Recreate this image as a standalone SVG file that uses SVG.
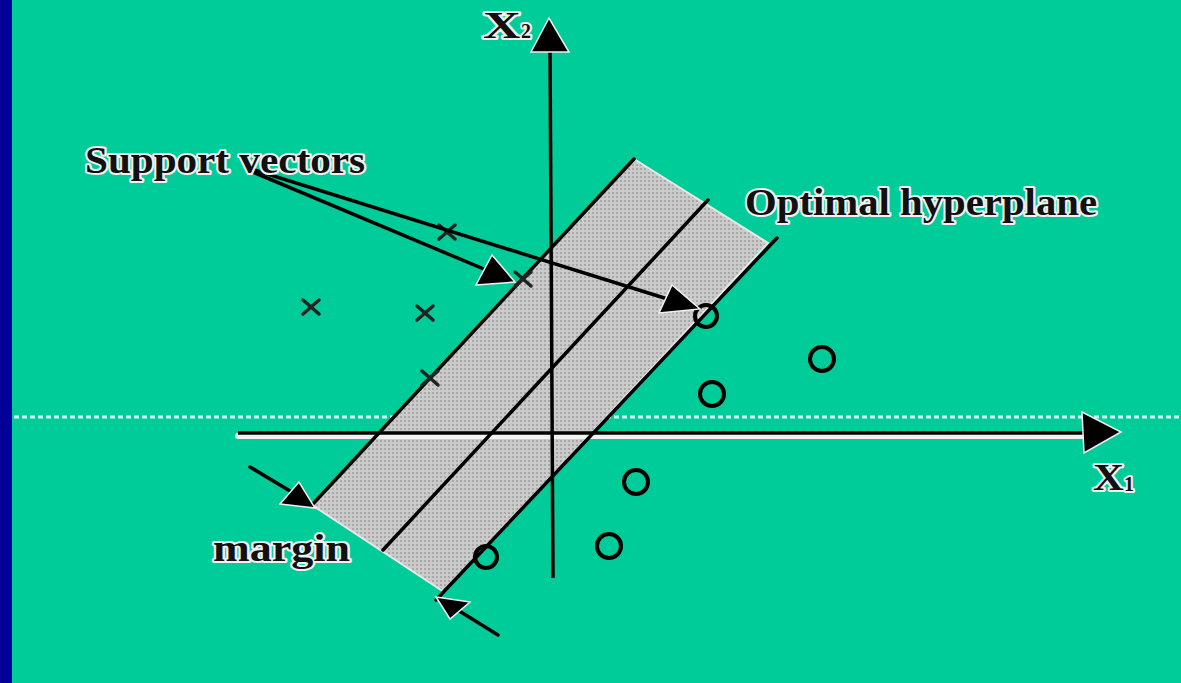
<svg xmlns="http://www.w3.org/2000/svg" width="1181" height="683" viewBox="0 0 1181 683">
<style>
.ln{stroke:#000;stroke-width:3.5;fill:none;stroke-linecap:round}
.halo{stroke:#f2f2f2;stroke-width:6;fill:none;stroke-linecap:round}
.ax{stroke:#000;stroke-width:3.5;fill:none}
.lbl{font-family:"Liberation Serif","Times New Roman",serif;font-weight:bold;fill:#111;stroke:#f0f0f0;stroke-width:4;paint-order:stroke;stroke-linejoin:round}
.circ{fill:none;stroke:#000;stroke-width:4}
.crs{stroke:#222;stroke-width:3.5;stroke-linecap:round}
.head{fill:#000;stroke:#f0f0f0;stroke-width:1.5}
</style>
<defs>
<pattern id="dots" width="4" height="4" patternUnits="userSpaceOnUse">
<rect width="4" height="4" fill="#cbcbcb"/>
<rect x="0" y="0" width="2" height="2" fill="#a8a8a8"/>
</pattern>
</defs>
<rect width="1181" height="683" fill="#00CC99"/>
<rect width="12" height="683" fill="#000099"/>
<line x1="14" y1="417" x2="1181" y2="417" stroke="#c8fff0" stroke-width="3" stroke-dasharray="5 3"/>

<g id="band">
<polygon points="634,159 768,243 444,592 312,505" fill="url(#dots)" stroke="#e8e8e8" stroke-width="2"/>
</g>

<g id="axes">
<line class="halo" x1="238" y1="436" x2="1085" y2="436"/>
<line class="ax" x1="238" y1="433" x2="1090" y2="433"/>
<polygon class="head" points="1082,412 1121,432 1084,453"/>
<line class="ax" x1="550" y1="48" x2="553" y2="578"/>
<polygon class="head" points="531,52 549,18 569,52"/>
</g>

<g id="hyperplanes">
<line class="ln" x1="312" y1="505" x2="634" y2="159"/>
<line class="ln" x1="383" y1="550" x2="708" y2="200"/>
<line class="ln" x1="436" y1="600" x2="777" y2="238"/>
</g>

<g id="crosses">
<g class="crs"><line x1="303" y1="300" x2="319" y2="314"/><line x1="319" y1="300" x2="303" y2="314"/></g>
<g class="crs"><line x1="417" y1="306" x2="433" y2="320"/><line x1="433" y1="306" x2="417" y2="320"/></g>
<g class="crs"><line x1="439" y1="225" x2="455" y2="239"/><line x1="455" y1="225" x2="439" y2="239"/></g>
<g class="crs"><line x1="422" y1="371" x2="438" y2="385"/><line x1="438" y1="371" x2="422" y2="385"/></g>
<g class="crs"><line x1="515" y1="272" x2="531" y2="286"/><line x1="531" y1="272" x2="515" y2="286"/></g>
</g>

<g id="circles">
<circle class="circ" cx="706" cy="316" r="11"/>
<circle class="circ" cx="822" cy="359" r="12"/>
<circle class="circ" cx="712" cy="394" r="12"/>
<circle class="circ" cx="636" cy="482" r="12"/>
<circle class="circ" cx="609" cy="546" r="12"/>
<circle class="circ" cx="486" cy="557" r="11"/>
</g>

<g id="connectors">
<line class="ln" x1="248" y1="168" x2="690" y2="306"/>
<line class="ln" x1="248" y1="170" x2="498" y2="275"/>
<polygon class="head" points="476,285 515,282 492,255"/>
<polygon class="head" points="659,313 700,309 672,285"/>
<line class="ln" x1="250" y1="467" x2="295" y2="494"/>
<polygon class="head" points="280,504 315,508 299,482"/>
<line class="ln" x1="498" y1="635" x2="456" y2="609"/>
<polygon class="head" points="436,597 450,619 470,602"/>
</g>

<g id="labels">
<text class="lbl" x="85" y="173" font-size="37" textLength="280" lengthAdjust="spacingAndGlyphs">Support vectors</text>
<text class="lbl" x="745" y="215" font-size="37" textLength="352" lengthAdjust="spacingAndGlyphs">Optimal hyperplane</text>
<text class="lbl" x="213" y="561" font-size="37" textLength="137" lengthAdjust="spacingAndGlyphs">margin</text>
<text class="lbl" x="483" y="38" font-size="38" textLength="38" lengthAdjust="spacingAndGlyphs">X</text>
<text class="lbl" x="521" y="38" font-size="20">2</text>
<text class="lbl" x="1093" y="490" font-size="38" textLength="31" lengthAdjust="spacingAndGlyphs">X</text>
<text class="lbl" x="1124" y="491" font-size="20">1</text>
</g>
</svg>
